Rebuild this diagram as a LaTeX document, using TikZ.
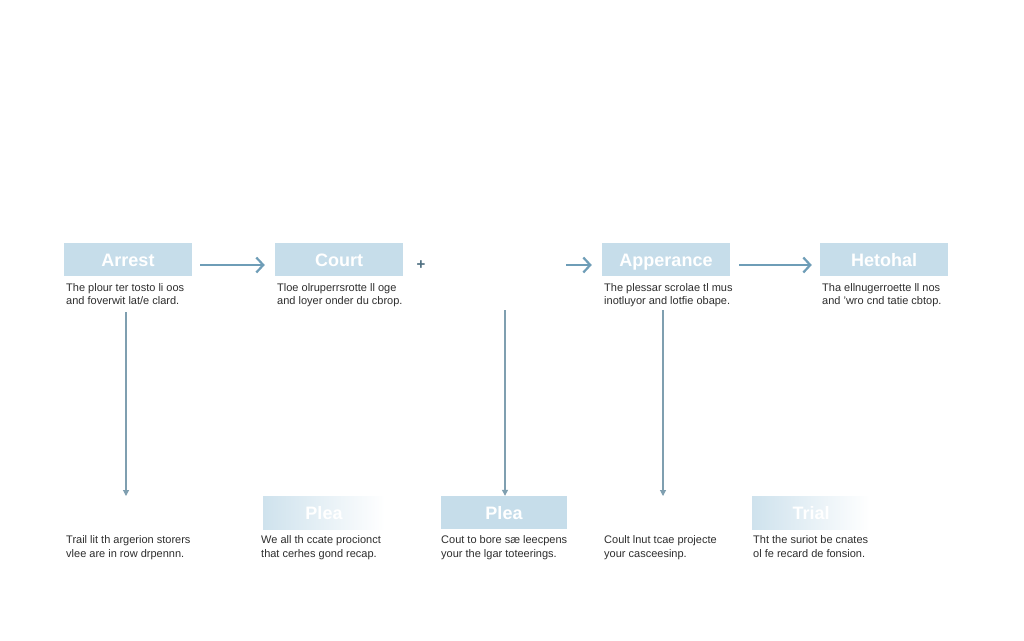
\documentclass[tikz,border=0pt]{standalone}
\usepackage{fontspec}
\setmainfont{Liberation Sans}
\usetikzlibrary{arrows.meta}
\definecolor{boxc}{HTML}{C6DDEA}
\definecolor{arrc}{HTML}{6E9DB7}
\definecolor{vlc}{HTML}{7F9FB0}
\definecolor{txtc}{HTML}{2E2E2E}
\tikzset{
  stage/.style={fill=boxc, minimum width=128pt, minimum height=33pt, inner sep=0pt,
    text height=14pt, text depth=0pt,
    text=white, font=\fontsize{18}{20}\selectfont\bfseries},
  fadebox/.style={left color=boxc!85, right color=white, minimum width=122pt, minimum height=33pt, inner sep=0pt,
    text height=14pt, text depth=0pt,
    text=white, font=\fontsize{18}{20}\selectfont\bfseries},
  desc/.style={anchor=north west, inner sep=0pt, align=left, text=txtc,
    font=\fontsize{11}{12.5}\selectfont},
  bdesc/.style={desc, font=\fontsize{11}{14}\selectfont},
  harrow/.style={draw=arrc, line width=2.6pt, -{Straight Barb[length=7pt,width=15pt,line width=2.2pt]}},
  varrow/.style={draw=vlc, line width=1.1pt, -{Triangle[length=6pt,width=6pt]}},
}
\begin{document}
\begin{tikzpicture}[x=1pt,y=-1pt]
\useasboundingbox (0,0) rectangle (1024,640);
\fill[white] (0,0) rectangle (1024,640);
% top row
\node[stage] (arrest) at (128,259.5) {Arrest};
\node[stage] (court) at (339,259.5) {Court};
\node[stage] (app) at (666,259.5) {Apperance};
\node[stage] (het) at (884,259.5) {Hetohal};
\node[text=arrc!70!black, font=\fontsize{15}{15}\selectfont\bfseries] (plus) at (421,265) {+};
% bottom row
\node[fadebox] (plea1) at (324,512.5) {Plea};
\node[stage, minimum width=126pt] (plea2) at (504,512.5) {Plea};
\node[fadebox, minimum width=118pt] (trial) at (811,512.5) {Trial};
% descriptions top
\node[desc] (d1) at (66,283.5) {The plour ter tosto li oos\\and foverwit lat/e clard.};
\node[desc] (d2) at (277,283.5) {Tloe olruperrsrotte ll oge\\and loyer onder du cbrop.};
\node[desc] (d3) at (604,283.5) {The plessar scrolae tl mus\\inotluyor and lotfie obape.};
\node[desc] (d4) at (822,283.5) {Tha ellnugerroette ll nos\\and 'wro cnd tatie cbtop.};
% descriptions bottom
\node[bdesc] (b1) at (66,535) {Trail lit th argerion storers\\vlee are in row drpennn.};
\node[bdesc] (b2) at (261,535) {We all th ccate procionct\\that cerhes gond recap.};
\node[bdesc] (b3) at (441,535) {Cout to bore sæ leecpens\\your the lgar toteerings.};
\node[bdesc] (b4) at (604,535) {Coult lnut tcae projecte\\your casceesinp.};
\node[bdesc] (b5) at (753,535) {Tht the suriot be cnates\\ol fe recard de fonsion.};
% coordinates
\coordinate (c1s) at (126,312);
\coordinate (c1e) at (126,496);
\coordinate (c2s) at (505,310);
\coordinate (c3s) at (663,310);
\coordinate (c3e) at (663,496);
\coordinate (inapp) at (566,265);
% horizontal arrows
\draw[harrow] (arrest.east |- 0,265) ++(8,0) -- ([xshift=-10pt]court.west |- 0,265);
\draw[harrow] (inapp) -- ([xshift=-10pt]app.west |- 0,265);
\draw[harrow] ([xshift=9pt]app.east |- 0,265) -- ([xshift=-8pt]het.west |- 0,265);
% vertical arrows
\draw[varrow] (c1s) -- (c1e);
\draw[varrow] (c2s) -- (c2s |- plea2.north);
\draw[varrow] (c3s) -- (c3e);
\end{tikzpicture}
\end{document}
